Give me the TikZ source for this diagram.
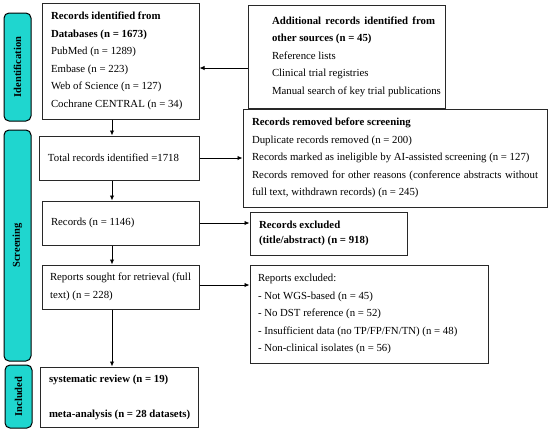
\documentclass[tikz,border=0pt]{standalone}
\usepackage{fontspec}
\setmainfont{Liberation Serif}
\usetikzlibrary{arrows.meta,calc}
\definecolor{barcyan}{RGB}{31,214,207}
\definecolor{boxline}{RGB}{40,40,40}
\newcommand{\jl}[2]{\makebox[#1][s]{#2}}
\tikzset{
  box/.style={draw=boxline, line width=1pt, fill=white, inner sep=0pt, font=\fontsize{10.8}{17.5}\selectfont},
  sidebar/.style={draw=black, line width=1pt, fill=barcyan, rounded corners=5pt, rotate=90, inner sep=0pt, minimum height=27pt, font=\fontsize{10.5}{12}\selectfont\bfseries},
  arr/.style={-{Latex[length=5pt,width=4.5pt]}, line width=0.9pt, black}
}
\begin{document}
\begin{tikzpicture}[x=1pt,y=-1pt]
\useasboundingbox (0,0) rectangle (550,432);
% side bars
\node[sidebar, minimum width=108pt] (sbid) at (17.5,67) {Identification};
\node[sidebar, minimum width=231pt] (sbscr) at (17.5,245.5) {Screening};
\node[sidebar, minimum width=63pt] (sbinc) at (18.5,396.5) {Included};
% boxes
\node[box, minimum width=157pt, minimum height=116pt] (db) at (120.5,61)
 {\parbox{139pt}{\mbox{\textbf{Records identified from}}\\
 \mbox{\textbf{Databases (n = 1673)}}\\
 \mbox{PubMed (n = 1289)}\\
 \mbox{Embase (n = 223)}\\
 \mbox{Web of Science (n = 127)}\\
 \mbox{Cochrane CENTRAL (n = 34)}}};
\node[box, minimum width=197pt, minimum height=103pt] (add) at (346.5,56.5)
 {\hspace*{14pt}\parbox{163pt}{\jl{163pt}{\textbf{Additional records identified from}}\\
 \mbox{\textbf{other sources (n = 45)}}\\
 \mbox{Reference lists}\\
 \mbox{Clinical trial registries}\\
 \mbox{Manual search of key trial publications}}};
\node[box, minimum width=160pt, minimum height=44pt] (tot) at (119,158)
 {\parbox{142pt}{\mbox{Total records identified =1718}}};
\node[box, minimum width=304pt, minimum height=98pt] (rem) at (395,158)
 {\parbox{286pt}{\mbox{\textbf{Records removed before screening}}\\
 \mbox{Duplicate records removed (n = 200)}\\
 \mbox{Records marked as ineligible by AI-assisted screening (n = 127)}\\
 \jl{286pt}{Records removed for other reasons (conference abstracts without}\\
 \mbox{full text, withdrawn records) (n = 245)}}};
\node[box, minimum width=157pt, minimum height=44pt] (rec) at (120.5,223)
 {\parbox{139pt}{\mbox{Records (n = 1146)}}};
\node[box, minimum width=157pt, minimum height=43pt] (exc) at (328.5,233.5)
 {\parbox{139pt}{\fontsize{10.8}{15}\selectfont\mbox{\textbf{Records excluded}}\\
 \mbox{\textbf{(title/abstract) (n = 918)}}}};
\node[box, minimum width=157pt, minimum height=44pt] (sou) at (120.5,287)
 {\parbox{141pt}{\fontsize{10.8}{18.5}\selectfont\jl{141pt}{Reports sought for retrieval (full}\\
 \mbox{text) (n = 228)}}};
\node[box, minimum width=238pt, minimum height=98pt] (rex) at (369,314)
 {\parbox{222pt}{\mbox{Reports excluded:}\\
 \mbox{- Not WGS-based (n = 45)}\\
 \mbox{- No DST reference (n = 52)}\\
 \mbox{- Insufficient data (no TP/FP/FN/TN) (n = 48)}\\
 \mbox{- Non-clinical isolates (n = 56)}}};
\node[box, minimum width=158pt, minimum height=60pt] (inc) at (119,397)
 {\parbox{140pt}{\mbox{\textbf{systematic review (n = 19)}}\\
 \mbox{}\\
 \mbox{\textbf{meta-analysis (n = 28 datasets)}}}};
% connectors
\coordinate (ax) at (112,0);
\coordinate (ay) at (0,68);
\draw[arr] (db.south -| ax) -- (tot.north -| ax);
\draw[arr] (tot.south -| ax) -- (rec.north -| ax);
\draw[arr] (rec.south -| ax) -- (sou.north -| ax);
\draw[arr] (sou.south -| ax) -- (inc.north -| ax);
\draw[arr] (add.west |- ay) -- (db.east |- ay);
\draw[arr] (tot.east) -- (rem.west |- tot.east);
\draw[arr] (rec.east) -- (exc.west |- rec.east);
\draw[arr] ($(sou.east)+(0,-2)$) -- (rex.west |- {$(sou.east)+(0,-2)$});
\end{tikzpicture}
\end{document}
